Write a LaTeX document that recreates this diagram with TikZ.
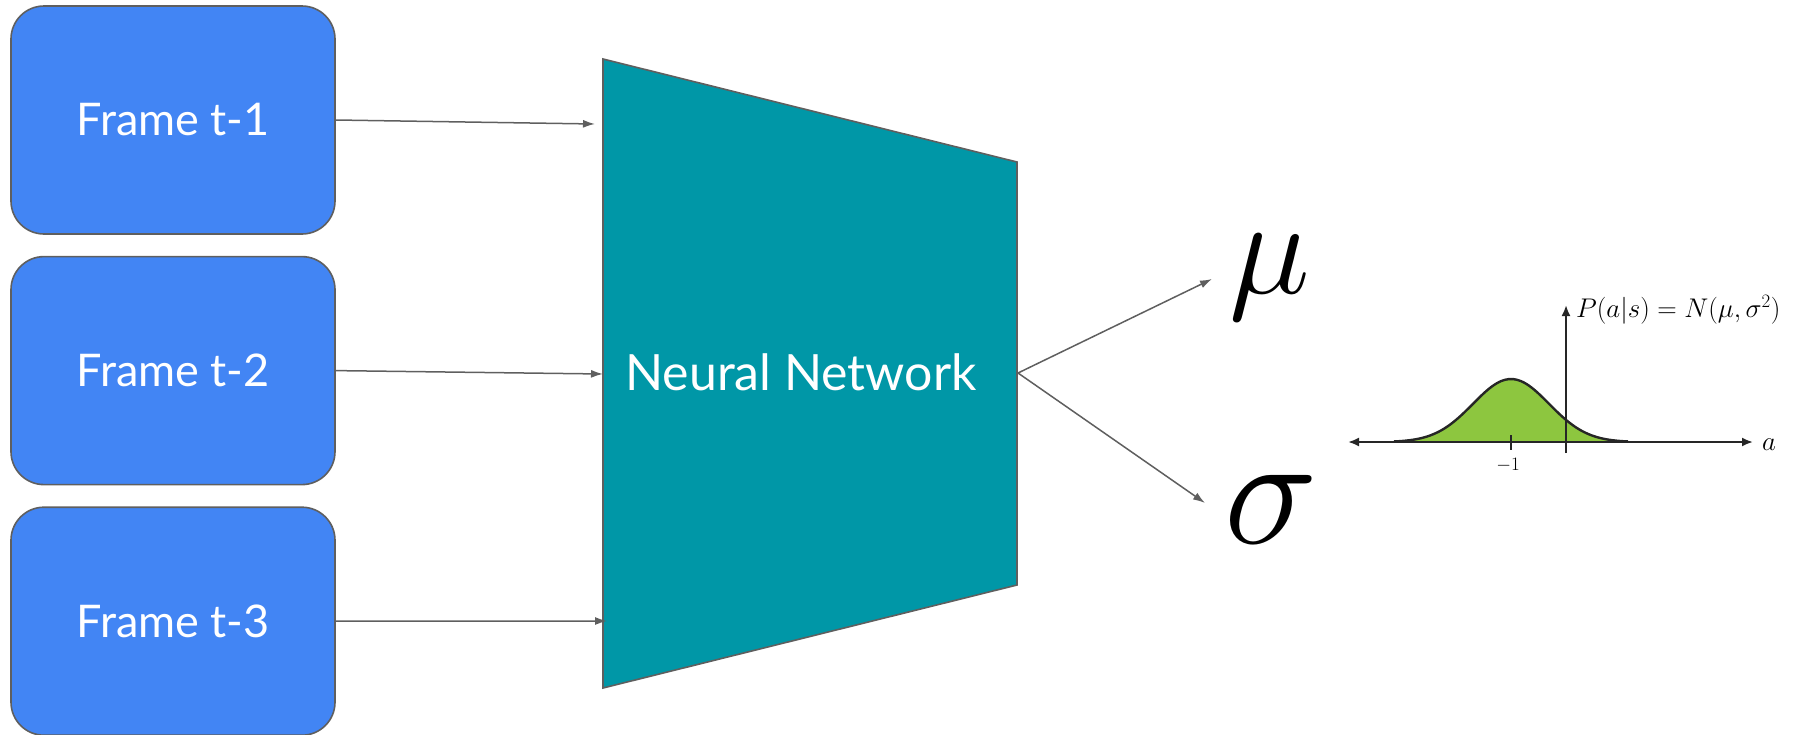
\RequirePackage{fix-cm}
\documentclass[tikz,border=0pt]{standalone}
\usepackage{fontspec}
\newfontfamily\lato{Lato}
\usetikzlibrary{arrows.meta, positioning}
\definecolor{cFrame}{HTML}{4285F4}
\definecolor{cNet}{HTML}{0097A7}
\definecolor{cEdge}{HTML}{5F5F5F}
\definecolor{cBell}{HTML}{8DC63F}

\begin{document}
\begin{tikzpicture}[
  x=1pt, y=-1pt,
  font=\lato,
  >={Latex[length=12pt, width=8pt]},
  frame/.style={rectangle, rounded corners=33pt, draw=cEdge, line width=1.6pt,
                fill=cFrame, text=white, minimum width=324pt, minimum height=228pt,
                font=\lato\fontsize{45}{54}\selectfont},
  net/.style={fill=cNet, draw=cEdge, line width=1.6pt, line join=miter},
  netlabel/.style={text=white, font=\lato\fontsize{50}{60}\selectfont},
  flow/.style={->, line width=1.5pt, draw=cEdge, fill=cEdge},
  greek/.style={inner sep=0pt, anchor=base west},
  axis/.style={line width=2pt, draw=black!85, {Latex[length=11pt, width=9pt]}-{Latex[length=11pt, width=9pt]}},
  plotlbl/.style={inner sep=0pt, font=\fontsize{27}{30}\selectfont},
]
\useasboundingbox (0,0) rectangle (1811,734);

% =========================== input frames ===========================
\node[frame] (f1) at (173,120) {Frame t-1};
\node[frame, below=21pt of f1] (f2) {Frame t-2};
\node[frame, below=21pt of f2] (f3) {Frame t-3};

% =========================== network ===========================
\coordinate (tl) at (603,59);
\coordinate (tr) at (1017,162);
\coordinate (br) at (1017,585);
\coordinate (bl) at (603,688);
\draw[net] (tl) -- (tr) -- (br) -- (bl) -- cycle;
\node[netlabel] (nn) at (801,372) {Neural Network};

\coordinate (in1) at (595,124);
\coordinate (in2) at (603,374);
\coordinate (in3) at (607,621);
\foreach \i in {1,2,3}
  \draw[flow] (f\i.east) -- (in\i);

% =========================== outputs ===========================
\node[greek, font=\fontsize{137}{137}\selectfont] (mu) at (1229,293) {$\mu$};
\node[greek, font=\fontsize{158}{158}\selectfont] (sig) at (1224,543) {$\sigma$};

\coordinate (out) at (1018,373);
\coordinate (tomu) at (1212,279);
\coordinate (tosig) at (1205,503);
\draw[flow] (out) -- (tomu);
\draw[flow] (out) -- (tosig);

% =========================== policy density ===========================
\fill[cBell] plot[domain=-117:117, samples=60, smooth]
  ({1511+\x},{442-63*exp(-((\x)*(\x))/2888)}) -- cycle;
\draw[axis] (1348,442) -- (1753,442);
\draw[axis, -{Latex[length=11pt, width=9pt]}] (1566,453) -- (1566,305);
\draw[line width=2pt, draw=black!85] (1511,435) -- (1511,450);
\draw[line width=2.4pt, draw=black!85] plot[domain=-117:117, samples=60, smooth]
  ({1511+\x},{442-63*exp(-((\x)*(\x))/2888)});

\node[plotlbl, anchor=base west] (pdf) at (1576,317) {$P(a|s) = N(\mu,\sigma^2)$};
\node[plotlbl, anchor=base west] (albl) at (1762,450) {$a$};
\node[plotlbl, anchor=base, font=\fontsize{19}{22}\selectfont] (tick) at (1508,470) {$-1$};

\end{tikzpicture}
\end{document}
